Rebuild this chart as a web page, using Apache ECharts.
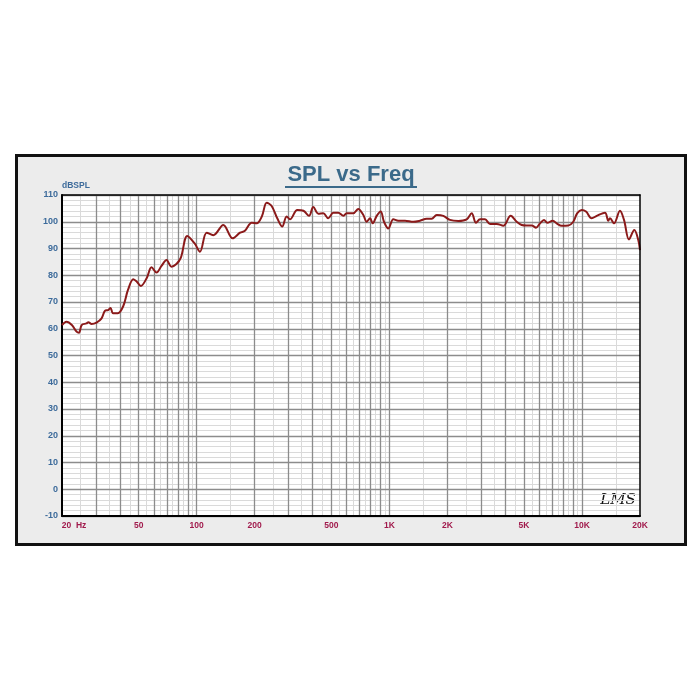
<!DOCTYPE html>
<html>
<head>
<meta charset="utf-8">
<script src="https://cdn.jsdelivr.net/npm/echarts@6/dist/echarts.min.js"></script>
<style>html,body{margin:0;padding:0;background:#fff;}#c{width:700px;height:700px;}</style>
</head>
<body>
<div id="c"></div>
<script>
// Frequency (Hz) and SPL (dB)
const freqs = [20,21.1,22.5,23.8,24.5,25.3,26.8,27.4,28.5,30.2,32.1,33.4,34.7,35.7,36.8,39.0,41.6,44.0,46.9,48.9,51.3,55.0,58.3,61.9,65.7,69.8,73.9,78.5,82.8,89.4,97.6,104,112.7,122,137.5,153.8,168,178,193,205,218,231,245,262,278,293,305,333,358,383,403,428,454,482,512,543,577,601,650,690,733,763,794,820,860,902,938,988,1049,1113,1206,1332,1443,1563,1659,1762,1906,2064,2280,2521,2676,2818,2956,3138,3331,3608,3904,4265,4581,4864,5164,5482,5771,6054,6350,6606,7046,7444,7846,8490,9012,9452,9964,10490,11230,11926,13162,13690,13972,14656,15740,16520,17534,18682,19594,20000];
const spl = [61.4,62.6,61.4,58.9,58.5,61.4,62.0,62.4,61.8,62.3,63.9,66.7,67.0,67.8,65.8,65.8,68.5,74.5,78.5,77.6,76.0,78.9,83.0,81.0,83.5,85.7,83.2,84.2,86.6,94.7,91.9,88.8,95.9,95.0,98.8,93.8,95.9,96.6,99.6,99.4,102.0,107.1,105.9,101.3,98.2,102.0,100.9,104.4,104.1,102.2,105.5,103.0,103.2,101.3,103.4,103.4,102.2,103.2,103.2,104.8,102.5,100.0,101.3,99.4,102.2,103.8,100.0,97.5,100.9,100.4,100.4,100.0,100.4,101.1,101.1,102.5,102.2,100.7,100.3,100.9,103.2,99.6,100.9,100.9,99.2,99.2,98.5,102.2,100.0,98.8,98.6,98.6,97.8,99.4,100.7,99.6,100.4,99.2,98.5,98.6,100.0,103.2,104.4,103.8,101.3,102.2,103.4,100.4,101.3,99.4,104.1,100.7,93.4,96.9,93.2,89.4];

// Axis tick values
const majorGrid = [30,40,50,60,70,80,90,100,200,300,400,500,600,700,800,900,1000,2000,3000,4000,5000,6000,7000,8000,9000,10000];
const minorGrid = [25,35,45,55,65,75,85,95,150,250,350,450,550,650,750,850,950,1500,2500,3500,4500,5500,6500,7500,8500,9500,15000];
const xLabelValues = [20,50,100,200,500,1000,2000,5000,10000,20000];
const xLabelTexts = ['20  Hz','50','100','200','500','1K','2K','5K','10K','20K'];
const yMin = -10, yMax = 110, yStep = 10;

const chart = echarts.init(document.getElementById('c'));
const data = freqs.map((f, i) => [f, spl[i]]);
const FONT = '"Liberation Sans", Arial, sans-serif';

chart.setOption({
  backgroundColor: '#fff',
  animation: false,
  graphic: [
    { type: 'rect', z: -10, shape: { x: 16.5, y: 155.5, width: 669, height: 389 },
      style: { fill: '#ececec', stroke: '#111', lineWidth: 3 } },
    { type: 'text', x: 351, y: 175, style: { text: 'SPL vs Freq', fill: '#3b6a8a',
      font: 'bold 22px ' + FONT, align: 'center', verticalAlign: 'middle' } },
    { type: 'line', shape: { x1: 285, y1: 187, x2: 417, y2: 187 }, style: { stroke: '#3b6a8a', lineWidth: 2 } },
    { type: 'text', x: 618, y: 500, style: { text: 'LMS', fill: '#111',
      font: 'italic 15px "DejaVu Serif", serif', align: 'center', verticalAlign: 'middle' } }
  ],
  grid: { left: 62, top: 195, width: 578, height: 321, show: true, backgroundColor: '#fff',
    borderColor: '#000', borderWidth: 0, containLabel: false },
  xAxis: [
    {
      type: 'log', logBase: 10, min: 20, max: 20000, z: 3, position: 'bottom',
      axisLine: { show: true, onZero: false, lineStyle: { color: '#000', width: 2 } },
      axisTick: { show: false, customValues: majorGrid },
      splitLine: { show: true, lineStyle: { color: '#8c8c8c', width: 1.3 } },
      axisLabel: {
        customValues: xLabelValues, margin: 5,
        color: '#a11a4c', fontWeight: 'bold', fontSize: 8.5, fontFamily: FONT,
        formatter: function (v) {
          const r = Math.round(v);
          const i = xLabelValues.indexOf(r);
          const t = i >= 0 ? xLabelTexts[i] : '';
          return i === 0 ? '{first|' + t + '}' : t;
        },
        rich: { first: { padding: [0, 0, 0, 24], color: '#a11a4c', fontWeight: 'bold', fontSize: 8.5, fontFamily: FONT } }
      }
    },
    {
      type: 'log', logBase: 10, min: 20, max: 20000, z: 0, position: 'bottom',
      axisLine: { show: false, onZero: false }, axisLabel: { show: false },
      axisTick: { show: false, customValues: minorGrid },
      splitLine: { show: true, lineStyle: { color: '#dadada', width: 1 } }
    },
    {
      type: 'log', logBase: 10, min: 20, max: 20000, z: 6, position: 'top',
      axisLine: { show: true, onZero: false, lineStyle: { color: '#000', width: 1.5 } },
      axisLabel: { show: false }, axisTick: { show: false }, splitLine: { show: false }
    }
  ],
  yAxis: [
    {
      type: 'value', min: yMin, max: yMax, interval: yStep, z: 1, position: 'left',
      name: 'dBSPL', nameLocation: 'end', nameGap: 4,
      nameTextStyle: { color: '#3d6b9b', fontWeight: 'bold', fontSize: 8.5, align: 'left', fontFamily: FONT },
      axisLine: { show: true, onZero: false, lineStyle: { color: '#000', width: 2 } },
      axisTick: { show: false },
      axisLabel: { color: '#3d6b9b', fontWeight: 'bold', fontSize: 9, margin: 4, fontFamily: FONT },
      splitLine: { show: true, lineStyle: { color: '#8c8c8c', width: 1.3 } },
      minorTick: { show: false, splitNumber: 5 },
      minorSplitLine: { show: true, lineStyle: { color: '#dadada', width: 1 } }
    },
    {
      type: 'value', min: yMin, max: yMax, interval: yStep, z: 6, position: 'right',
      axisLine: { show: true, onZero: false, lineStyle: { color: '#000', width: 1.5 } },
      axisLabel: { show: false }, axisTick: { show: false }, splitLine: { show: false }
    }
  ],
  series: [{
    type: 'line', xAxisIndex: 0, yAxisIndex: 0, data: data, showSymbol: false, smooth: 0.35, z: 5,
    lineStyle: { color: '#8b1a1a', width: 2 }
  }]
});
</script>
</body>
</html>
